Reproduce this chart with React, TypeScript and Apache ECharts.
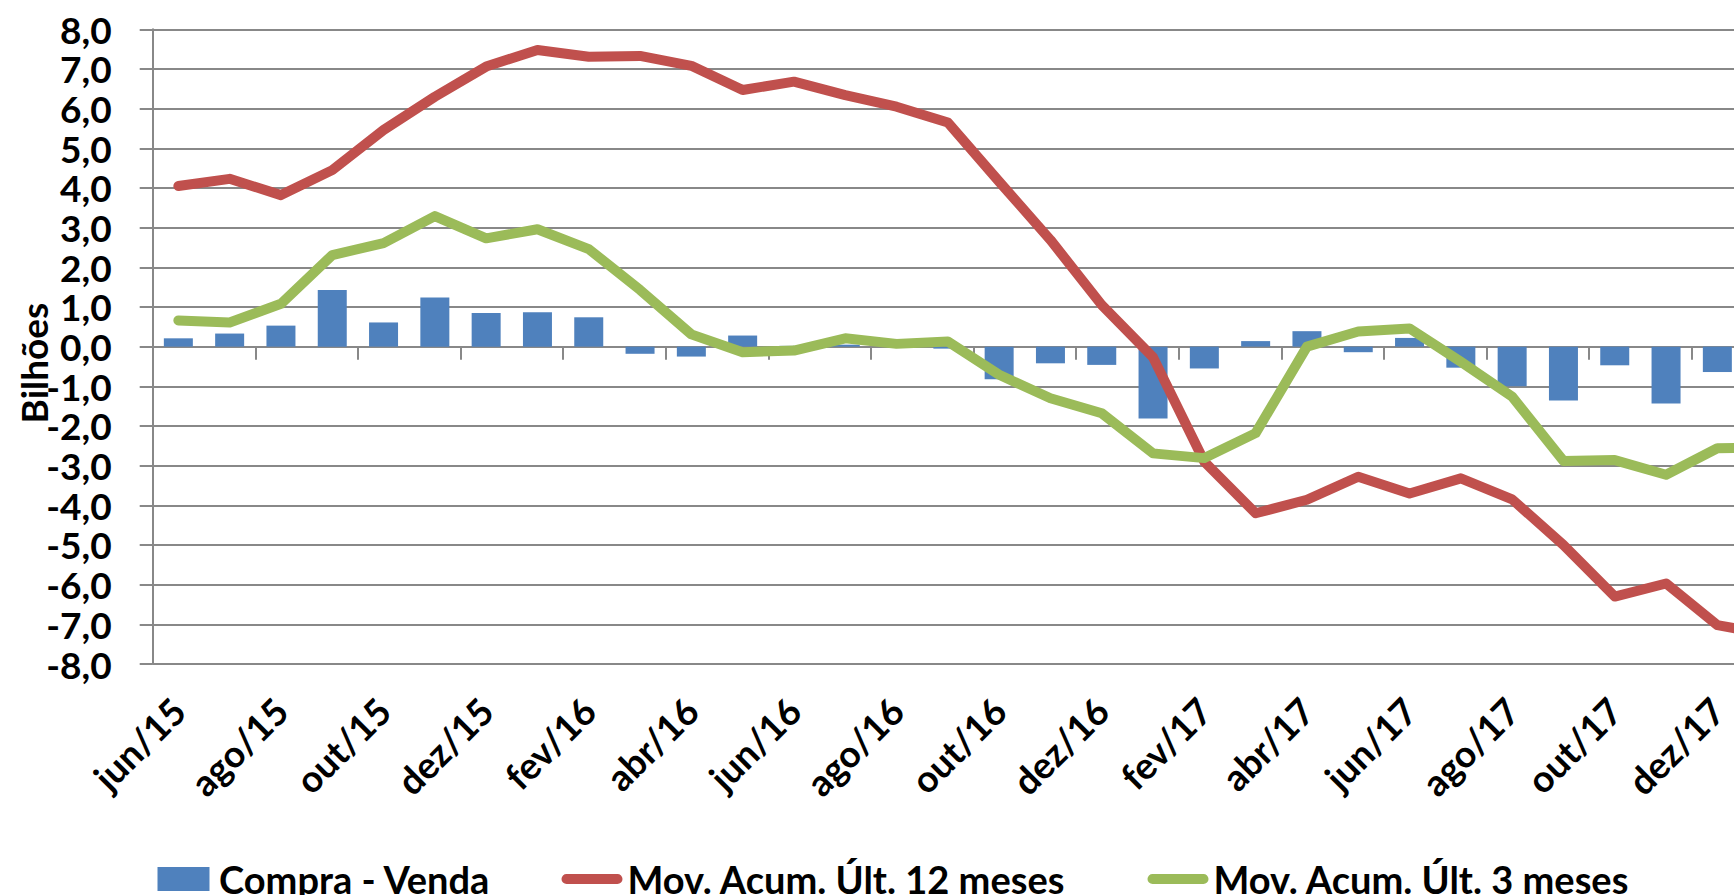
import React, { useEffect, useRef } from "react";
import * as echarts from "echarts";

const categories = [
  "jun/15", "jul/15", "ago/15", "set/15", "out/15", "nov/15", "dez/15",
  "jan/16", "fev/16", "mar/16", "abr/16", "mai/16", "jun/16", "jul/16", "ago/16", "set/16", "out/16", "nov/16", "dez/16",
  "jan/17", "fev/17", "mar/17", "abr/17", "mai/17", "jun/17", "jul/17", "ago/17", "set/17", "out/17", "nov/17", "dez/17",
  "jan/18",
];

const compraVenda = [
  0.21, 0.33, 0.53, 1.43, 0.61, 1.24, 0.85,
  0.87, 0.74, -0.18, -0.25, 0.28, 0.02, 0.05, 0.03, -0.05, -0.82, -0.42, -0.46,
  -1.81, -0.55, 0.14, 0.39, -0.14, 0.22, -0.53, -1.0, -1.36, -0.47, -1.43, -0.64,
  null,
];

const acum12 = [
  4.05, 4.23, 3.82, 4.45, 5.46, 6.3, 7.06,
  7.48, 7.31, 7.33, 7.08, 6.47, 6.68, 6.34, 6.05, 5.65, 4.16, 2.69, 1.05,
  -0.27, -2.9, -4.2, -3.86, -3.28, -3.7, -3.32, -3.85, -5.0, -6.3, -5.97, -7.02,
  -7.25,
];

const acum3 = [
  0.66, 0.61, 1.08, 2.31, 2.61, 3.29, 2.73,
  2.96, 2.46, 1.43, 0.31, -0.14, -0.1, 0.21, 0.07, 0.13, -0.71, -1.3, -1.68,
  -2.69, -2.81, -2.18, 0.0, 0.38, 0.46, -0.38, -1.26, -2.88, -2.86, -3.23, -2.56,
  -2.55,
];

const seriesNames = ["Compra - Venda", "Mov. Acum. Últ. 12 meses", "Mov. Acum. Últ. 3 meses"];
const colors = ["#4F81BD", "#C0504D", "#9BBB59"];

const FONT = "Lato, 'DejaVu Sans', sans-serif";
const GRAY = "#888888";

export default function App() {
  const ref = useRef<HTMLDivElement>(null);

  useEffect(() => {
    if (!ref.current) return;
    const chart = echarts.init(ref.current, null, { renderer: "svg" });
    const rectIcon = "path://M0 0H52V24H0Z";
    const lineIcon = "path://M5 0H55A5 5 0 0 1 55 10H5A5 5 0 0 1 5 0Z";
    const legendText = {
      fontFamily: FONT,
      fontWeight: "bold" as const,
      fontSize: 38,
      lineHeight: 34,
      color: "#000",
    };
    const mkLegend = (i: number, left: number) => ({
      data: [
        {
          name: seriesNames[i],
          icon: i === 0 ? rectIcon : lineIcon,
          itemStyle: { color: colors[i], borderWidth: 0 },
        },
      ],
      left,
      top: 860,
      padding: 0,
      itemWidth: 61,
      itemHeight: 24,
      symbolKeepAspect: true,
      textStyle: legendText,
      selectedMode: false,
    });

    const catWidth = 51.3;

    chart.setOption({
      animation: false,
      backgroundColor: "#ffffff",
      grid: {
        left: 152.7,
        top: 29.3,
        width: catWidth * categories.length,
        height: 634.7,
        containLabel: false,
      },
      legend: [mkLegend(0, 157.5), mkLegend(1, 561.5), mkLegend(2, 1147.5)],
      graphic: [
        {
          type: "text",
          x: 33,
          y: 363,
          rotation: Math.PI / 2,
          style: {
            text: "Bilhões",
            font: `bold 37px ${FONT}`,
            fill: "#000",
            textAlign: "center",
            textVerticalAlign: "middle",
          },
        },
      ],
      xAxis: [
        {
          type: "category",
          data: categories,
          boundaryGap: true,
          position: "bottom",
          axisLine: { show: false, onZero: false },
          axisTick: { show: false },
          axisLabel: {
            interval: 1,
            rotate: 45,
            margin: 40,
            fontFamily: FONT,
            fontWeight: "bold",
            fontSize: 37,
            lineHeight: 34,
            color: "#000",
          },
          splitLine: { show: false },
        },
        {
          type: "category",
          data: categories,
          boundaryGap: true,
          position: "bottom",
          axisLine: { show: true, onZero: true, lineStyle: { color: GRAY, width: 2 } },
          axisTick: { show: true, interval: 1, length: 13, lineStyle: { color: GRAY, width: 2 } },
          axisLabel: { show: false },
          splitLine: { show: false },
        },
      ],
      yAxis: {
        type: "value",
        min: -8,
        max: 8,
        interval: 1,
        axisLine: { show: true, lineStyle: { color: GRAY, width: 2 } },
        axisTick: { show: true, length: 13, lineStyle: { color: GRAY, width: 2 } },
        splitLine: { show: true, lineStyle: { color: GRAY, width: 2 } },
        axisLabel: {
          margin: 41,
          fontFamily: FONT,
          fontWeight: "bold",
          fontSize: 37,
          lineHeight: 34,
          color: "#000",
          formatter: (v: number) => v.toFixed(1).replace(".", ","),
        },
      },
      series: [
        {
          name: seriesNames[0],
          type: "bar",
          xAxisIndex: 0,
          data: compraVenda,
          barWidth: 29,
          itemStyle: { color: colors[0] },
          z: 2,
        },
        {
          name: seriesNames[1],
          type: "line",
          xAxisIndex: 0,
          data: acum12,
          symbol: "none",
          lineStyle: { color: colors[1], width: 10, cap: "round", join: "round" },
          itemStyle: { color: colors[1] },
          z: 3,
        },
        {
          name: seriesNames[2],
          type: "line",
          xAxisIndex: 0,
          data: acum3,
          symbol: "none",
          lineStyle: { color: colors[2], width: 10, cap: "round", join: "round" },
          itemStyle: { color: colors[2] },
          z: 4,
        },
      ],
    });
    return () => chart.dispose();
  }, []);

  return (
    <div
      style={{
        position: "fixed",
        left: 0,
        top: 0,
        width: 1734,
        height: 895,
        overflow: "hidden",
        background: "#fff",
      }}
    >
      <div ref={ref} style={{ width: 1860, height: 895 }} />
    </div>
  );
}
